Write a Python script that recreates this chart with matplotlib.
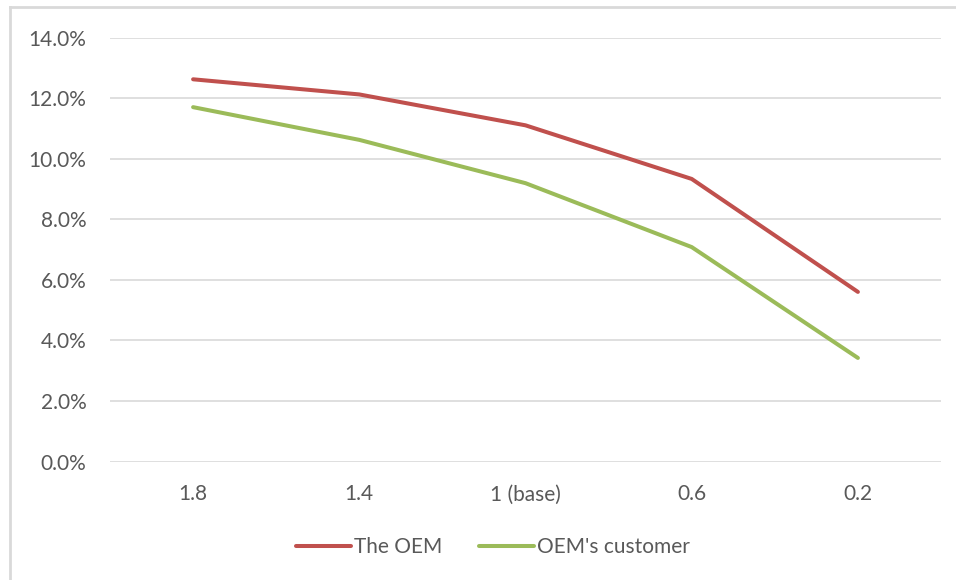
import matplotlib
matplotlib.use("Agg")
import matplotlib.pyplot as plt
from matplotlib.lines import Line2D
from matplotlib.ticker import PercentFormatter

categories = ["1.8", "1.4", "1 (base)", "0.6", "0.2"]
oem = [12.62, 12.12, 11.10, 9.33, 5.60]
oem_customer = [11.70, 10.62, 9.19, 7.08, 3.42]
series_names = ["The OEM", "OEM's customer"]
y_ticks = [0, 2, 4, 6, 8, 10, 12, 14]

text_color = "#595959"
grid_color = "#D9D9D9"
plt.rcParams["font.family"] = ["Lato", "DejaVu Sans"]

W, H = 956, 580
fig = plt.figure(figsize=(W / 100, H / 100), dpi=100)
ax = fig.add_axes([110 / W, 1 - 461.5 / H, (941 - 110) / W, (461.5 - 37.5) / H])

x = range(len(categories))
ax.plot(x, oem, color="#C0504D", lw=2.9, solid_capstyle="round",
        solid_joinstyle="round", label=series_names[0])
ax.plot(x, oem_customer, color="#9BBB59", lw=2.9, solid_capstyle="round",
        solid_joinstyle="round", label=series_names[1])

ax.set_xlim(-0.5, len(categories) - 0.5)
ax.set_ylim(0, 14)
ax.set_yticks(y_ticks)
ax.yaxis.set_major_formatter(PercentFormatter(decimals=1))
ax.set_xticks(list(x))
ax.set_xticklabels(categories)
ax.grid(axis="y", color=grid_color, lw=1.2)
ax.set_axisbelow(True)
for s in ax.spines.values():
    s.set_visible(False)
ax.tick_params(axis="both", length=0, colors=text_color, labelsize=15)
ax.tick_params(axis="y", pad=17)
ax.tick_params(axis="x", pad=28)
for lbl in ax.get_xticklabels():
    lbl.set_verticalalignment("baseline")

fig.legend(loc="center", bbox_to_anchor=(493 / W, 1 - 547 / H), ncol=2,
           frameon=False, fontsize=15, labelcolor=text_color,
           handlelength=2.6, handletextpad=0.15, columnspacing=1.8)

# chart border (top and left edges)
fig.add_artist(Line2D([10 / W, 1], [1 - 7 / H, 1 - 7 / H], color=grid_color, lw=2,
                      transform=fig.transFigure))
fig.add_artist(Line2D([10 / W, 10 / W], [0, 1 - 7 / H], color=grid_color, lw=2,
                      transform=fig.transFigure))

fig.savefig("out.png", dpi=100, facecolor="white")
